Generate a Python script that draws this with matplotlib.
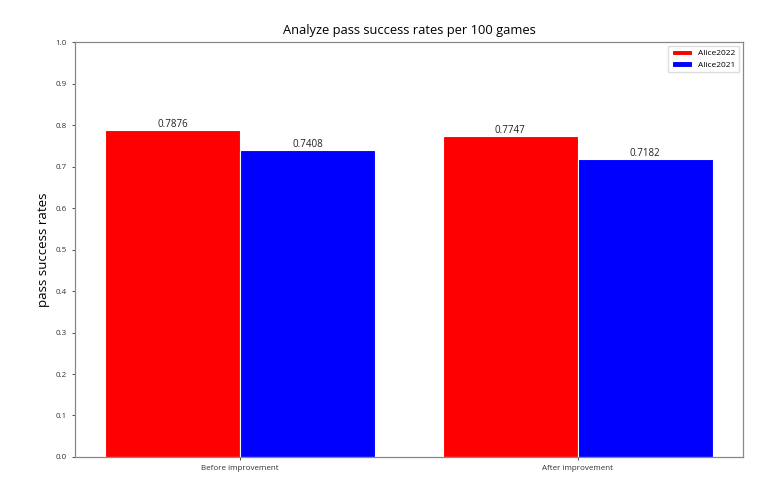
import matplotlib
matplotlib.use("Agg")
import matplotlib.pyplot as plt
import numpy as np

plt.rcParams['font.family'] = ['Open Sans', 'DejaVu Sans']

# data
stages = ['Before improvement', 'After improvement']
alice2022 = [0.7876, 0.7747]
alice2021 = [0.7408, 0.7182]

x = np.arange(len(stages))
width = 0.4

fig = plt.figure(figsize=(7.78, 4.95), dpi=100)
ax = fig.add_axes([0.0964, 0.0768, 0.8586, 0.8382])

b1 = ax.bar(x - width / 2, alice2022, width, color='red', edgecolor='white',
            linewidth=0.8, label='Alice2022')
b2 = ax.bar(x + width / 2, alice2021, width, color='blue', edgecolor='white',
            linewidth=0.8, label='Alice2021')

for bars in (b1, b2):
    for rect in bars:
        h = rect.get_height()
        ax.text(rect.get_x() + rect.get_width() / 2, h, str(h),
                ha='center', va='bottom', fontsize=7, color='#222222')

ax.set_ylim(0, 1.0)
ax.set_yticks(np.arange(0, 1.01, 0.1))
ax.set_xticks(x)
ax.set_xticklabels(stages)
ax.tick_params(labelsize=5.8, colors='#333333', length=2.5, width=0.6)
for sp in ax.spines.values():
    sp.set_color('#888888')
    sp.set_linewidth(0.9)

ax.set_ylabel('pass success rates', fontsize=9.5)
ax.set_title('Analyze pass success rates per 100 games', fontsize=9.3, pad=6)
ax.legend(loc='upper right', fontsize=6, handlelength=2.4, handleheight=0.6,
          framealpha=1, edgecolor='#dddddd', fancybox=False)

fig.savefig('out.png', dpi=100)
